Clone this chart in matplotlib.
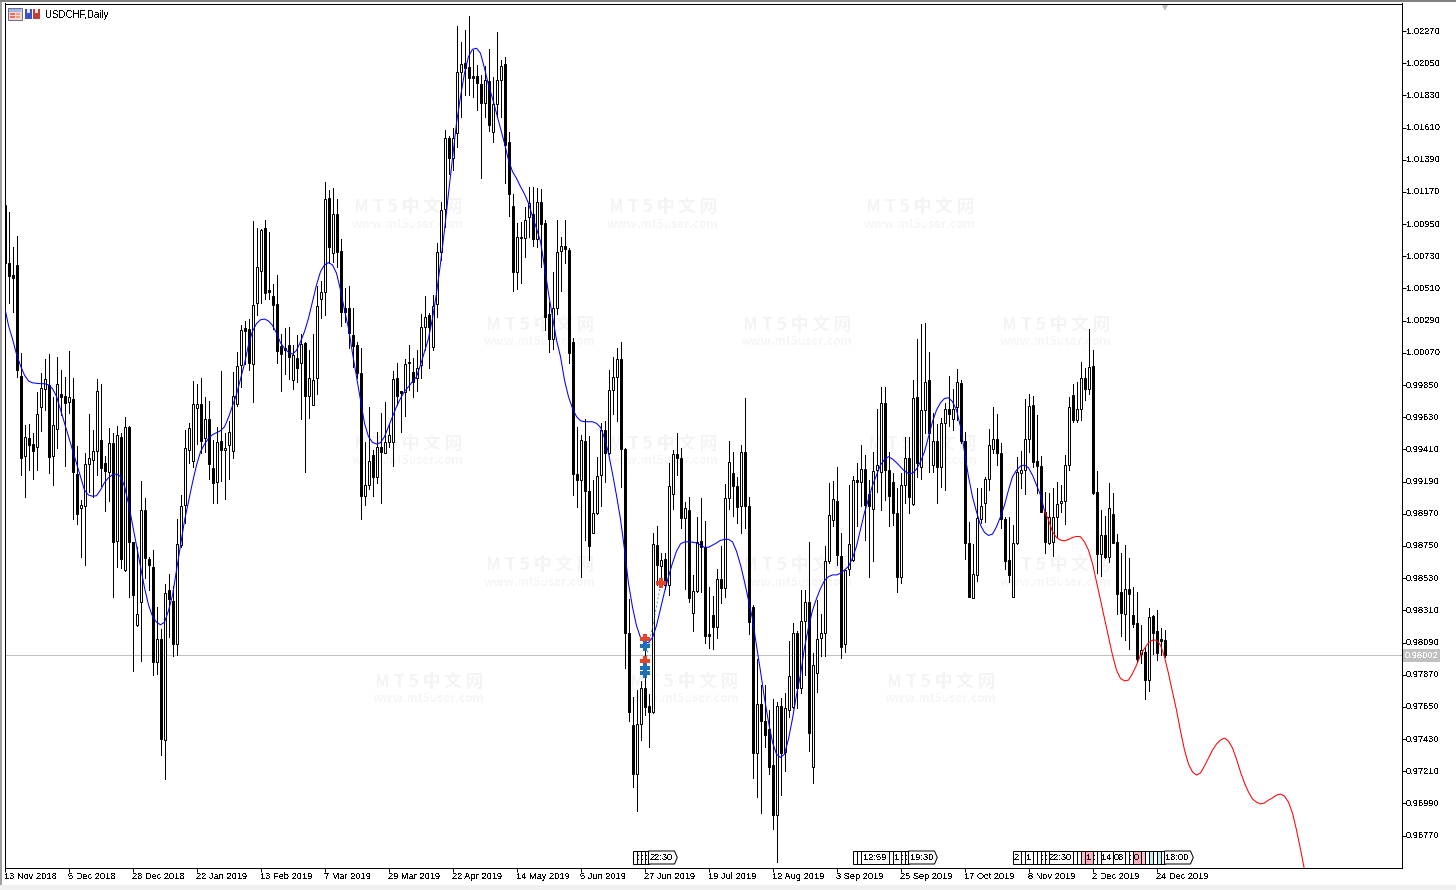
import numpy as np
import matplotlib
matplotlib.use("Agg")
import matplotlib.pyplot as plt
from matplotlib.patches import Rectangle, Polygon
from matplotlib.transforms import ScaledTranslation

plt.rcParams['font.family'] = ['Liberation Sans', 'DejaVu Sans']
plt.rcParams['text.antialiased'] = False
plt.rcParams['lines.antialiased'] = False

# prices in 1e-5 (98002 = 0.98002), one entry per daily bar
highs = [
    101081,101036,100793,100866,100069,99577,99582,99524,99799,99930,
    100027,100061,99768,100040,99956,99904,100082,99899,99430,99067,
    99386,99650,99543,99891,99857,99367,99556,99524,99569,99524,
    99632,99569,98779,98740,99197,99080,98674,98721,98334,98185,
    98491,98557,98473,98936,99098,99543,99590,99878,99857,99899,
    99768,99742,99472,99564,99943,99524,99603,99938,100074,100262,
    100288,100304,100971,100924,100919,100976,100893,100539,100605,100197,
    100239,100244,100126,100192,100199,100142,100089,100199,100527,100561,
    101236,101183,101195,101120,100846,100511,100527,100374,100142,100101,
    99463,99702,99406,99526,99656,99736,99583,99946,99998,99809,
    100026,100124,100032,100089,100336,100459,100340,100465,100819,101099,
    101594,101553,101605,102305,102193,102277,102373,102141,102038,101970,
    102031,102145,101958,102261,102072,102095,101578,101154,100955,100967,
    101069,101206,101206,101195,101188,100978,100420,100625,100978,100860,
    100978,100784,100169,99561,99511,99615,99499,99199,99361,99592,
    99603,99950,100042,100100,100142,99418,98390,97720,97766,97824,
    98136,97738,98841,98887,98702,98702,99314,99407,99522,99418,
    99053,99083,98552,98945,99079,98922,98471,98409,98591,98748,
    99176,99465,99395,99222,99442,99758,99083,98344,97979,97801,
    97801,97627,97704,97685,97708,97748,98101,98221,98171,98448,
    98448,98776,98020,98379,98286,98748,99180,99194,99287,98841,
    98586,99169,99227,99314,99442,99372,99199,99395,99683,99834,
    99838,99394,99246,99143,99246,99496,99492,99884,100164,100267,
    100276,100077,99660,99583,99622,99724,99911,99820,99957,99884,
    99531,98915,98763,99143,99148,99223,99549,99697,99651,99451,
    98949,98949,98892,99360,99401,99754,99786,99774,99644,99364,
    99116,99109,99143,99189,99166,99371,99770,99854,99868,100005,
    99964,100232,100089,99262,98995,98956,99177,99113,98831,98699,
    98756,98671,98471,98437,98209,98061,98323,98277,98311,98186,
    98175]
lows = [
    100362,100414,100348,99904,99237,99085,99271,99210,99271,99538,
    99681,99250,99166,99420,99642,99299,99660,98936,98897,98674,
    98622,99119,99088,99237,99158,98988,99059,98400,98609,98596,
    98577,98400,97897,98203,97965,98530,98452,97869,97876,97322,
    97157,98130,97999,98007,98740,98910,99315,99289,99446,99388,
    99394,99210,99046,99046,99192,99072,99210,99349,99708,99838,
    99995,99951,99734,100330,100414,100435,100435,100231,100003,99812,
    99922,99891,99825,99872,99615,99258,99627,99711,99786,100310,
    100329,100682,100693,100659,100256,100283,100101,99971,99896,98934,
    99030,99139,99093,99178,99046,99383,99429,99299,99713,99531,
    99640,99816,99770,99809,99896,100089,99969,100089,100317,100705,
    100933,101293,101320,101480,101685,101833,101833,101817,101730,101263,
    101680,101589,101509,101685,101685,101233,101008,100495,100504,100545,
    100728,100864,100800,100796,100659,100226,100078,100094,100336,100493,
    100682,100003,99098,99018,98540,98794,98656,98836,98968,99026,
    99187,99379,99650,99603,99153,97916,97553,97101,96939,97426,
    97593,97378,97611,98482,98482,98459,98413,99002,99234,98871,
    98459,98367,98171,98434,98436,98090,98055,98043,98124,98362,
    98402,99002,98956,98910,98841,98875,98147,97165,97034,96923,
    97373,97188,96812,96592,97050,97211,97581,97639,97639,97743,
    97870,97350,97131,97755,97997,97997,98633,98887,98621,97981,
    98027,98552,98644,98887,99026,98794,98540,98644,99120,98995,
    99063,98888,98892,98437,98494,99045,98977,99029,99218,99205,
    99519,99257,99257,99045,99155,99132,99572,99542,99610,99451,
    98660,98398,98391,98512,98908,98911,99132,99382,99303,98876,
    98592,98505,98398,98763,99143,99104,99394,99291,99109,98979,
    98703,98763,98683,98813,98984,98899,99268,99599,99599,99610,
    99747,99788,99104,98562,98544,98671,98642,98767,98288,98136,
    98106,98049,98197,97958,97947,97703,97757,98008,97969,98004,
    97992]
body_tops = [
    101081,100681,100602,100670,99909,99498,99485,99446,99655,99833,
    99888,99851,99577,99859,99786,99776,99765,99757,99245,99027,
    99313,99349,99396,99807,99477,99315,99451,99451,99506,99493,
    99566,99566,98774,98282,98999,98993,98664,98604,98117,98117,
    98431,98447,98373,98766,99020,99420,99553,99723,99718,99723,
    99621,99616,99281,99459,99464,99422,99532,99773,99977,100223,
    100239,100231,100396,100655,100908,100921,100498,100458,100401,100118,
    100100,100126,100053,100032,100130,100140,99896,99884,100390,100488,
    101120,101126,101017,101017,100764,100374,100374,100190,100121,99930,
    99164,99328,99369,99429,99429,99458,99506,99889,99896,99807,
    99991,100007,99937,99964,100244,100317,100329,100388,100757,101047,
    101537,101537,101537,101988,102043,102049,102022,101963,101963,101908,
    101933,101929,101769,101933,102031,102043,101509,101072,100860,100862,
    100976,101092,101019,101099,101099,100955,100336,100374,100757,100798,
    100798,100771,100142,99242,99474,99469,99125,98972,99227,99546,
    99546,99818,99908,100026,100026,99412,98152,97523,97530,97782,
    97782,97655,98760,98755,98651,98658,99157,99377,99377,99349,
    99007,98993,98439,98778,98781,98744,98145,98281,98522,98522,
    99076,99322,99250,99157,99391,99391,99021,98332,97667,97667,
    97551,97500,97251,97655,97655,97644,97859,98152,98152,98235,
    98367,98367,97939,98113,98154,98644,98959,99072,99058,98679,
    98586,98760,99199,99199,99275,99275,99106,99264,99300,99724,
    99724,99266,99184,98972,99164,99348,99348,99758,99765,99676,
    99868,99881,99467,99467,99588,99686,99686,99686,99868,99861,
    99469,98767,98555,98938,99025,99211,99437,99478,99478,99382,
    98933,98653,98767,99257,99266,99478,99708,99711,99328,99294,
    98984,98945,98949,99038,99059,99300,99701,99779,99688,99895,
    99895,99970,99979,99116,98822,98822,99006,98965,98774,98432,
    98459,98459,98275,98220,98036,98026,98261,98270,98172,98111,
    98106]
body_bottoms = [
    100681,100597,100584,99956,99349,99362,99438,99401,99425,99702,
    99825,99360,99362,99551,99770,99728,99736,99258,98970,99012,
    99020,99313,99339,99401,99284,99263,99258,98779,98787,98661,
    98583,98779,98415,98211,98368,98666,98622,97960,97955,97432,
    97426,98386,98080,98080,98758,99033,99407,99333,99694,99469,
    99485,99313,99182,99184,99407,99407,99441,99401,99721,99990,
    100218,100003,99995,100409,100628,100482,100487,100398,100084,100061,
    100087,100042,99885,99969,100003,99777,99777,99716,99896,100436,
    100488,100791,100750,100762,100352,100352,100203,100119,99930,99093,
    99093,99164,99219,99219,99394,99388,99463,99458,99777,99798,
    99805,99998,99873,99896,99987,100244,100249,100112,100402,100757,
    101053,101404,101404,101571,101988,102015,101951,101951,101913,101780,
    101776,101628,101578,101774,101933,101491,101154,100625,100625,100857,
    100857,100996,100846,100846,100951,100317,100162,100167,100374,100766,
    100778,100067,99239,99198,99199,99123,98748,98841,98972,99234,
    99384,99384,99818,99904,99412,98152,97616,97188,97188,97535,
    97651,97616,97616,98621,98614,98482,98482,99107,99349,98940,
    98938,98397,98293,98439,98744,98136,98136,98194,98194,98464,
    98464,99076,99157,99019,99026,99026,98228,97336,97336,97551,
    97461,97242,96913,96913,97334,97343,97632,97651,97778,97778,
    98235,97473,97242,97882,98124,98152,98644,98929,98691,98062,
    98078,98591,98656,99190,99187,99030,99026,99003,99268,99257,
    99268,99093,98972,98539,98535,99170,99088,99034,99319,99291,
    99676,99524,99300,99291,99291,99588,99649,99615,99699,99469,
    98767,98402,98396,98551,98931,99041,99205,99410,99382,98933,
    98649,98551,98402,98767,99246,99268,99478,99325,99296,98984,
    98778,98767,98774,98945,99041,99059,99300,99610,99610,99683,
    99820,99820,99109,98696,98696,98676,98676,98772,98423,98293,
    98288,98421,98218,97976,98008,97837,97837,98156,98020,98102,
    98002]
# u = bullish (hollow), d = bearish (filled)
directions = (
    "dddddudduu" "uduudduddu" "uuuuddudud" "udduudddud" "udduuuuuud"
    "udduduuuuu" "dduuuddddd" "ddududuuuu" "ududdddddd" "uududuuudd"
    "udduuuduuu" "uduuuddddd" "uduuuddduu" "uududdduuu" "ddddudduuu"
    "duuudddduu" "ddududuudd" "uduuddddud" "uuddudddud" "ddduduuudu"
    "uduuuuuudd" "uuududduuu" "dddduududu" "ududuuduud" "dduuuuuudd"
    "dduuuuuddd" "duuuuuuduu" "duddududdd" "udddududd" "dd")

# moving line, bar 0 up to bar 260
blue_line = [
    100388,100257,100165,100061,99982,99917,99878,99865,99862,99859,
    99859,99851,99825,99773,99681,99590,99498,99407,99315,99224,
    99132,99098,99090,99093,99132,99184,99216,99237,99242,99224,
    99158,99040,98897,98753,98609,98465,98347,98269,98229,98211,
    98229,98308,98413,98583,98753,98923,99054,99184,99302,99394,
    99446,99485,99511,99524,99538,99564,99629,99708,99786,99891,
    99995,100126,100218,100270,100296,100301,100288,100257,100205,100139,
    100100,100074,100061,100087,
    100146,100215,100306,100420,100534,100625,100671,100687,100671,100614,
    100500,100363,100238,100067,99907,99748,99588,99497,99458,99447,
    99456,99497,99565,99634,99702,99759,99805,99839,99873,99907,
    99987,100078,100169,100306,100477,100682,100910,101161,101400,101639,
    101821,101981,102095,102145,102152,102118,102015,101901,101810,101707,
    101605,101502,101388,101309,101263,101206,101156,101092,101001,100921,
    100830,100659,100477,100317,100158,100044,99884,99770,99691,99634,
    99606,99599,99599,99599,99588,99561,
    99488,99384,99245,99095,98933,98725,98494,98332,98205,98124,
    98090,98090,98124,98205,98321,98436,98540,98633,98714,98764,
    98778,98778,98776,98771,98755,98741,98741,98755,98771,98788,
    98795,98795,98778,98714,98621,98506,98379,98251,98067,97893,
    97708,97547,97408,97327,97304,97327,97431,97570,97731,97870,
    98055,98194,98309,98390,98459,98513,98540,98552,98552,98563,
    98586,98610,98667,98748,98864,98979,99072,99164,
    99234,99303,99341,99360,99344,99319,99291,99262,99246,99246,
    99275,99325,99394,99496,99599,99679,99729,99758,99763,99736,
    99679,99565,99394,99223,99086,98984,98892,98842,98822,98831,
    98881,98949,99029,99132,99223,99268,99296,99303,99284,99234,
    99166,99098,98990]

# projected part, bar 260 to 325, keeps going past the last bar
red_bars = list(range(260, 326))
red_line = [
    98990,98927,98847,98808,98790,98785,98794,98808,98815,98813,
    98778,98721,98630,98505,98380,98254,98129,98004,97901,97844,
    97828,97833,97878,97935,98004,98049,98088,98106,98106,98072,
    97992,97878,
    97751,97628,97485,97355,97259,97205,97184,97198,97246,97300,
    97355,97396,97423,97437,97416,97369,97293,97205,97129,97068,
    97020,96999,96986,96993,97013,97027,97047,97054,97040,96999,
    96924,96808,96678,96535]

date_labels = ["13 Nov 2018", "5 Dec 2018", "28 Dec 2018", "22 Jan 2019", "13 Feb 2019",
               "7 Mar 2019", "29 Mar 2019", "22 Apr 2019", "14 May 2019", "5 Jun 2019",
               "27 Jun 2019", "19 Jul 2019", "12 Aug 2019", "3 Sep 2019", "25 Sep 2019",
               "17 Oct 2019", "8 Nov 2019", "2 Dec 2019", "24 Dec 2019"]
last_price = 98002

# trade arrows on bar 160/164
sell_bars = [160, 160, 164]
sell_prices = [98114, 97963, 98497]
buy_bars = [160, 160, 160]
buy_prices = [98066, 97915, 97881]
trade_bars = [160, 161, 162, 164]
trade_prices = [97882, 98067, 98194, 98480]

# event boxes at the bottom: bar, label, fill
event_groups = [
    [(157, "", "w"), (158, ":", "w"), (159, ":", "w"), (160, ":", "w"), (161, "22:30", "w")],
    [(212, "", "w"), (213, "", "w"), (214, "12:59", "w"), (221, "", "w"), (222, "1", "w"),
     (224, ":", "w"), (225, ":", "w"), (226, "19:30", "w")],
    [(252, "2", "w"), (254, "", "w"), (255, "1", "w"), (257, "", "w"), (258, "", "w"),
     (259, ":", "w"), (260, ":", "w"), (261, "22:30", "w"), (267, "", "w"), (268, "", "w"),
     (269, "", "#ffc0cb"), (270, "1", "#ffb0c0"), (272, ":", "w"), (273, "", "w"),
     (274, "14", "w"), (277, "08", "w"), (280, "", "w"), (281, ":", "w"),
     (282, "0", "#ffb0c0"), (284, "", "#ffc0cb"), (285, "", "w"), (286, "", "#c8f0f0"),
     (287, "", "w"), (288, "", "#c8f0f0"), (289, "", "w"), (290, "18:00", "w")],
]

W, H = 1456, 890
fig = plt.figure(figsize=(W / 100, H / 100), dpi=100, facecolor="white")
ax = fig.add_axes([4.5 / W, 1 - 867.5 / H, 1397 / W, 864 / H])

highs, lows = np.array(highs) / 1e5, np.array(lows) / 1e5
body_tops, body_bottoms = np.array(body_tops) / 1e5, np.array(body_bottoms) / 1e5
bars = np.arange(len(highs))
hollow = np.array([d == "u" for d in directions])

ax.vlines(bars, lows, highs, color="black", linewidth=0.72, zorder=2)
ax.bar(bars, body_tops - body_bottoms, bottom=body_bottoms, width=0.5,
       color=["white" if h else "black" for h in hollow],
       edgecolor="black", linewidth=0.72, zorder=3)

ax.axhline(last_price / 1e5, color="#c0c0c0", linewidth=0.5, zorder=1.5)
ax.plot(np.arange(len(blue_line)), np.array(blue_line) / 1e5, color="#0000ff", linewidth=0.75,
        antialiased=True, zorder=5)
ax.plot(red_bars, np.array(red_line) / 1e5, color="#ff0000", linewidth=0.75, antialiased=True, zorder=5)

ax.plot(trade_bars, np.array(trade_prices) / 1e5, color="#1f78b4", linewidth=0.6, linestyle=(0, (2, 3)),
        antialiased=True, zorder=6)
ax.plot(sell_bars, np.array(sell_prices) / 1e5, "P", color="#e8432a", markersize=6.5, markeredgewidth=0,
        antialiased=True, zorder=7)
ax.plot(buy_bars, np.array(buy_prices) / 1e5, "P", color="#1f6fb5", markersize=6.5, markeredgewidth=0,
        antialiased=True, zorder=7)

ax.set_xlim(0, 349.25)
ax.set_ylim(0.96552, 1.02458)

# right axis and dates
yticks = 0.9677 + 0.0022 * np.arange(26)
ax.yaxis.tick_right()
ax.set_yticks(yticks)
ax.set_yticklabels(["%.5f" % t for t in yticks])
ax.set_xticks(np.arange(len(date_labels)) * 16)
ax.set_xticklabels(date_labels, ha="left")
ax.tick_params(axis="both", labelsize=6.7, length=2.9, width=0.72, color="black", labelcolor="black")
ax.tick_params(axis="y", pad=0.4)
ax.tick_params(axis="x", pad=0)
up_one_px = ScaledTranslation(0, 1 / 100, fig.dpi_scale_trans)
for lab in ax.get_yticklabels():
    lab.set_transform(lab.get_transform() + up_one_px)
for s in ax.spines.values():
    s.set_linewidth(0.72)

# current price tag
ax.text(1.0023, last_price / 1e5, "%.5f" % (last_price / 1e5), transform=ax.get_yaxis_transform(),
        color="white", fontsize=6.7, va="center", ha="left", zorder=9,
        bbox=dict(facecolor="#c0c0c0", edgecolor="none", pad=1.2))

# chart shift marker
ax.plot([290], [1.0243], "v", color="#c0c0c0", markersize=5, markeredgewidth=0, clip_on=False, zorder=8)

# event boxes
trans = ax.get_xaxis_transform()
y0, y1 = 3.5 / 864, 16.5 / 864
for group in event_groups:
    for k, (bar, label, fill) in enumerate(group):
        last = k == len(group) - 1
        if last:
            x1 = bar + 6.5
            pts = [(bar, y0), (x1, y0), (x1 + 0.7, (y0 + y1) / 2), (x1, y1), (bar, y1)]
        else:
            x1 = group[k + 1][0]
            pts = [(bar, y0), (x1, y0), (x1, y1), (bar, y1)]
        ax.add_patch(Polygon(pts, closed=True, transform=trans, facecolor=fill, edgecolor="black",
                             linewidth=0.72, zorder=10))
        if label:
            ax.text((bar + x1) / 2, (y0 + y1) / 2, label, transform=trans, fontsize=6.7,
                    ha="center", va="center", zorder=11)

# watermark
wm_font = ['Noto Sans CJK SC', 'DejaVu Sans']
wm_rows = [(207, [408, 663, 920]), (325, [540, 797, 1056]), (444, [408, 663, 922]),
           (565, [540, 797, 1056]), (682, [429, 684, 941])]
for wy, xs in wm_rows:
    for wx in xs:
        ax.text(wx / W, 1 - wy / H, "M T 5 中 文 网", transform=fig.transFigure, color="#f4f4f4",
                fontsize=12.5, fontweight="bold", family=wm_font, ha="center", va="center", zorder=1)
        ax.text(wx / W, 1 - (wy + 17) / H, "www.mt5user.com", transform=fig.transFigure, color="#f6f6f6",
                fontsize=8.5, fontweight="bold", family=wm_font, ha="center", va="center", zorder=1)

fig.text(45 / W, 1 - 15 / H, "USDCHF,Daily", fontsize=7, va="center", ha="left", color="black")


def px_rect(x, y, w, h, color, edge="none"):
    fig.patches.append(Rectangle((x / W, 1 - (y + h) / H), w / W, h / H, transform=fig.transFigure,
                                 facecolor=color, edgecolor=edge, linewidth=0.7, figure=fig, zorder=6))


# window border
px_rect(0, 0, 2, H, "#a0a0a0")
px_rect(0, 0, W, 1.5, "#808080")
px_rect(0, 885, W, 5, "#f0f0f0")

# toolbar icons
px_rect(8, 8, 14, 12, "#f4d8d0", "#6a6a90")
px_rect(9, 9, 12, 2.5, "#a0b8e8")
px_rect(10, 13, 5, 1.5, "#e87060")
px_rect(10, 16, 5, 1.5, "#e87060")
px_rect(16, 13, 4, 1.5, "#e8a090")
px_rect(16, 16, 4, 1.5, "#e8a090")
px_rect(25, 9, 7, 10, "#3a50c8")
px_rect(27, 9, 3, 4, "#e8e8f0")
px_rect(33, 9, 7, 10, "#c04038")
px_rect(35, 9, 3, 4, "#f0e8e8")

fig.savefig("out.png", dpi=100, facecolor="white")
